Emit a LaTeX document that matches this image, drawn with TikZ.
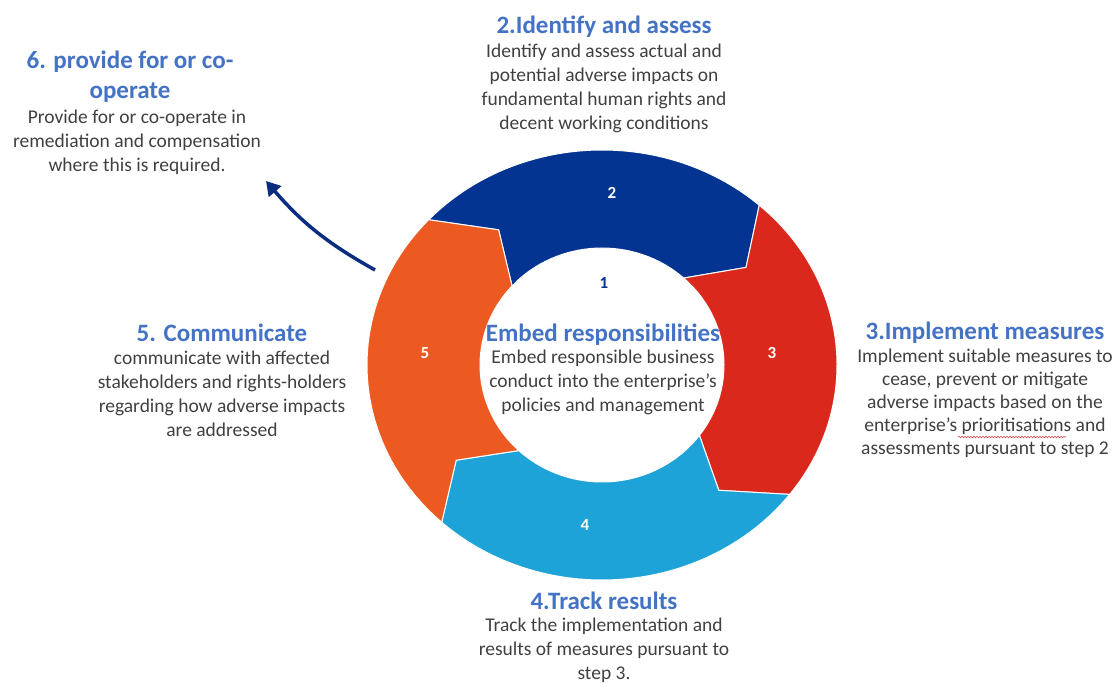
\documentclass[tikz,border=0pt]{standalone}
\usepackage{fontspec}
\setmainfont{Carlito}
\usetikzlibrary{calc,arrows.meta,decorations.pathmorphing}
\definecolor{segblue}{RGB}{4,52,145}
\definecolor{segred}{RGB}{218,41,28}
\definecolor{segcyan}{RGB}{30,163,216}
\definecolor{segorange}{RGB}{236,90,34}
\definecolor{titleblue}{RGB}{68,114,196}
\definecolor{bodygray}{RGB}{64,64,64}
\definecolor{arrownavy}{RGB}{10,45,130}
\definecolor{spellred}{RGB}{220,60,60}
\newcommand\ringseg[3]{%
  \fill[#1, draw=white, line width=1pt]
    ($(C)+(#2:235pt and 215pt)$)
    arc[start angle=#2, end angle=#3, x radius=235pt, y radius=215pt]
    -- ($(C)+({#3-12}:178pt and 166pt)$)
    -- ($(C)+(#3:122pt and 117pt)$)
    arc[start angle=#3, end angle=#2, x radius=122pt, y radius=117pt]
    -- ($(C)+({#2-12}:178pt and 166pt)$)
    -- cycle;}
\tikzset{
  title/.style={font=\fontsize{25}{30}\selectfont\bfseries, text=titleblue, align=center, inner sep=0pt, anchor=base},
  body/.style={font=\fontsize{19.5}{24}\selectfont, text=bodygray, align=center, inner sep=0pt, anchor=base},
  segnum/.style={font=\fontsize{17}{19}\selectfont\bfseries, text=white, inner sep=0pt},
}
\begin{document}
\begin{tikzpicture}[x=1pt,y=1pt]
\useasboundingbox (0,0) rectangle (1115,684);
\coordinate (C) at (602,319);
% ring segments (clockwise: 2 -> 3 -> 4 -> 5 -> 2)
\ringseg{segblue}{137.5}{48}
\ringseg{segred}{48}{-37}
\ringseg{segcyan}{-37}{-133}
\ringseg{segorange}{-133}{-222.5}
% numbers
\node[segnum] (n2) at (612,491) {2};
\node[segnum] (n3) at (772,331) {3};
\node[segnum] (n4) at (585,159) {4};
\node[segnum] (n5) at (425,331) {5};
\node[segnum, text=segblue] (n1) at (604,401) {1};
% centre
\node[title] (t1) at (603,342) {Embed responsibilities};
\node[body] (b1) at (603,272) {Embed responsible business\\conduct into the enterprise's\\policies and management};
% 2
\node[title] (t2) at (604,650) {2.Identify and assess};
\node[body] (b2) at (604,554) {Identify and assess actual and\\potential adverse impacts on\\fundamental human rights and\\decent working conditions};
% 3
\node[title] (t3) at (985,344) {3.Implement measures};
\node[body, font=\fontsize{19.5}{23}\selectfont] (b3) at (985,229) {Implement suitable measures to\\cease, prevent or mitigate\\adverse impacts based on the\\enterprise's prioritisations and\\assessments pursuant to step 2};
\draw[spellred, line width=0.6pt, decorate, decoration={snake, amplitude=0.7pt, segment length=3pt}] (958,247) -- (1066,247);
% 4
\node[title] (t4) at (604,74) {4.Track results};
\node[body] (b4) at (604,4) {Track the implementation and\\results of measures pursuant to\\step 3.};
% 5
\node[title] (t5) at (222,342) {5. Communicate};
\node[body] (b5) at (222,247) {communicate with affected\\stakeholders and rights-holders\\regarding how adverse impacts\\are addressed};
% 6
\node[title] (t6) at (130,585) {6. provide for or co-\\operate};
\node[body] (b6) at (137,512) {Provide for or co-operate in\\remediation and compensation\\where this is required.};
% arrow
\coordinate (atail) at (375,414);
\coordinate (ahead) at (266,503);
\draw[arrownavy, line width=3.5pt, -{Triangle[length=14pt,width=16pt]}] (atail) to[bend left=10] (ahead);
\end{tikzpicture}
\end{document}
